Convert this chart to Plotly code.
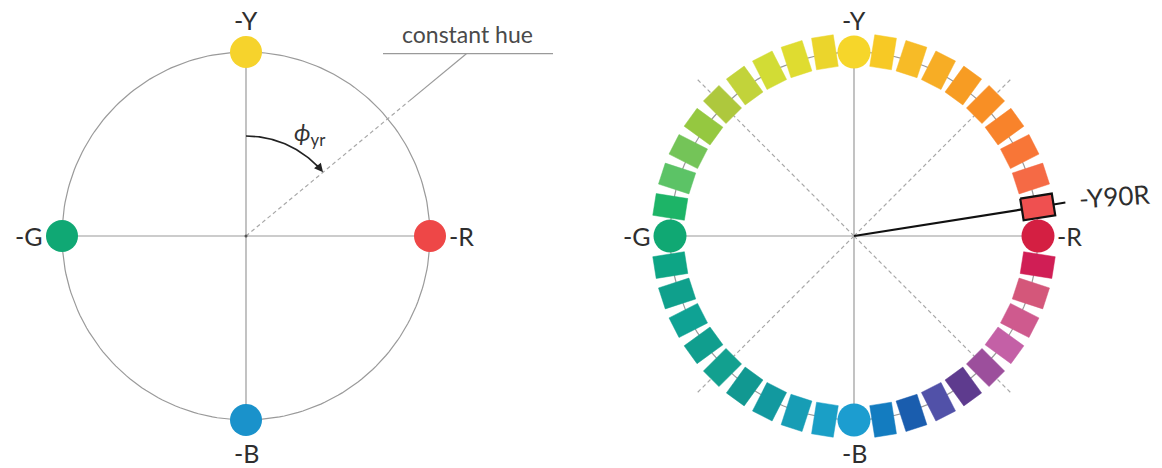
import math
import plotly.graph_objects as go

# ---------------- data ----------------
# Left diagram: the four unique hues
left_labels = ["-Y", "-R", "-B", "-G"]
left_angles = [0, 90, 180, 270]          # degrees, clockwise from top
left_colors = ["#F6D32C", "#EE4747", "#1A92CB", "#10A874"]

# constant hue line angle (phi_yr) in degrees
phi_yr = 50.4

# Right diagram: NCS hue circle, 40 steps of 9 degrees (clockwise from Y)
ring_names = (["Y"] + ["Y%dR" % p for p in range(10, 100, 10)] +
              ["R"] + ["R%dB" % p for p in range(10, 100, 10)] +
              ["B"] + ["B%dG" % p for p in range(10, 100, 10)] +
              ["G"] + ["G%dY" % p for p in range(10, 100, 10)])
ring_colors = [
    "#F6D62A",
    "#F7C925", "#F7BB27", "#F7AD25", "#F79C23", "#F88F25", "#F8832B", "#F87637", "#F56A45", "#EF5050",
    "#D41F42",
    "#D01E55", "#D4577A", "#CF5A8E", "#C460A6", "#9C4F9C", "#5E3B8E", "#5151A8", "#1A5DAE", "#137CC0",
    "#1C9DD0",
    "#1A9FC6", "#179DB5", "#12999F", "#119891", "#12A08F", "#109E8E", "#0FA294", "#0FA08C", "#0DA585",
    "#10A873",
    "#1DB467", "#5CC366", "#74C458", "#95C840", "#AEC83D", "#C2D33A", "#D2DC35", "#DFDC30", "#EBD52C",
]
highlight = "Y90R"

# ---------------- layout constants ----------------
W, H = 1162, 468
LC = (246, 236)   # left centre
RC = (854, 236)   # right centre
R = 184           # circle radius
RING_R = 186      # radius of rectangle centres
LR, LT = 32, 22   # rectangle radial / tangential size
GRAY = "#9A9A9A"
TXT = "#2E2E2E"
FONT = "Lato"

def pol(c, r, deg):
    a = math.radians(deg)
    return c[0] + r * math.sin(a), c[1] - r * math.cos(a)

fig = go.Figure()

def line(xs, ys, color=GRAY, width=1.2, dash=None):
    fig.add_trace(go.Scatter(x=xs, y=ys, mode="lines", hoverinfo="skip",
                             line=dict(color=color, width=width, dash=dash),
                             showlegend=False))

def circle(c, r, color=GRAY, width=1.2, a0=0, a1=360, n=240):
    pts = [pol(c, r, a0 + (a1 - a0) * k / n) for k in range(n + 1)]
    line([p[0] for p in pts], [p[1] for p in pts], color, width)

# ---------------- left diagram ----------------
circle(LC, R)
line([LC[0], LC[0]], [LC[1] - R, LC[1] + R])
line([LC[0] - R, LC[0] + R], [LC[1], LC[1]])

# constant hue dashed line + leader
p_in = pol(LC, 212, phi_yr)
line([LC[0], p_in[0]], [LC[1], p_in[1]], color="#A8A8A8", width=1.2, dash="4px,3px")
p_top = pol(LC, 286, phi_yr)
line([p_in[0], p_top[0]], [p_in[1], p_top[1]], color=GRAY, width=1.2)
line([383, 553], [p_top[1], p_top[1]], color=GRAY, width=1.2)

# phi arc with arrow
circle(LC, 100, color="#222222", width=1.6, a0=0, a1=phi_yr - 4, n=60)
tip = pol(LC, 100, phi_yr)
tdir = (math.cos(math.radians(phi_yr)), math.sin(math.radians(phi_yr)))
fig.add_annotation(x=tip[0], y=tip[1], ax=-11 * tdir[0], ay=-11 * tdir[1],
                   axref="pixel", ayref="pixel", text="", showarrow=True,
                   arrowhead=2, arrowsize=1.1, arrowwidth=1.6, arrowcolor="#222222")

fig.add_trace(go.Scatter(x=[LC[0]], y=[LC[1]], mode="markers", hoverinfo="skip",
                         marker=dict(size=3, color="#555555"), showlegend=False))

lx, ly = zip(*[pol(LC, R, a) for a in left_angles])
fig.add_trace(go.Scatter(x=list(lx), y=list(ly), mode="markers", hoverinfo="skip",
                         marker=dict(size=32, color=left_colors,
                                     line=dict(color=left_colors, width=0)),
                         showlegend=False))

# ---------------- right diagram ----------------
circle(RC, R)
line([RC[0], RC[0]], [RC[1] - R, RC[1] + R])
line([RC[0] - R, RC[0] + R], [RC[1], RC[1]])
for a in (45, 135, 225, 315):
    p = pol(RC, 221, a)
    line([RC[0], p[0]], [RC[1], p[1]], color="#A8A8A8", width=1.2, dash="4px,3px")

ring_angles = [9 * i for i in range(len(ring_names))]
card_x, card_y, card_c = [], [], []
for name, ang, col in zip(ring_names, ring_angles, ring_colors):
    if ang % 90 == 0:
        p = pol(RC, R, ang)
        card_x.append(p[0]); card_y.append(p[1]); card_c.append(col)
        continue
    c = pol(RC, RING_R, ang)
    a = math.radians(ang)
    u = (math.sin(a), -math.cos(a))
    t = (math.cos(a), math.sin(a))
    corners = []
    for su, st in ((-1, -1), (1, -1), (1, 1), (-1, 1), (-1, -1)):
        corners.append((c[0] + su * LR / 2 * u[0] + st * LT / 2 * t[0],
                        c[1] + su * LR / 2 * u[1] + st * LT / 2 * t[1]))
    hl = name == highlight
    fig.add_trace(go.Scatter(x=[q[0] for q in corners], y=[q[1] for q in corners],
                             mode="lines", fill="toself", fillcolor=col,
                             line=dict(color="#111111" if hl else col, width=2.2 if hl else 0.5),
                             hoverinfo="skip", showlegend=False))
    if hl:
        hl_ang = ang

fig.add_trace(go.Scatter(x=card_x, y=card_y, mode="markers", hoverinfo="skip",
                         marker=dict(size=33, color=card_c, line=dict(width=0)),
                         showlegend=False))

# black pointer to highlighted hue
p0 = pol(RC, RING_R - LR / 2, hl_ang)
line([RC[0], p0[0]], [RC[1], p0[1]], color="#111111", width=2.2)
p1 = pol(RC, RING_R + LR / 2, hl_ang)
p2 = pol(RC, RING_R + LR / 2 + 12, hl_ang)
line([p1[0], p2[0]], [p1[1], p2[1]], color="#111111", width=2)

# ---------------- text ----------------
def label(x, y, text, xanchor="center", size=25, color=TXT, angle=0):
    fig.add_annotation(x=x, y=y, text=text, showarrow=False, xanchor=xanchor,
                       yanchor="middle", textangle=angle,
                       font=dict(family=FONT, size=size, color=color))

for c in (LC, RC):
    label(c[0], c[1] - R - 32, "-Y")
    label(c[0], c[1] + R + 33, "-B")
    label(c[0] - R - 17, c[1], "-G", xanchor="right")
    label(c[0] + R + 17, c[1], "-R", xanchor="left")

label(467, 34, "constant hue", size=23, color="#4A4A4A")
label(309, 133, "<i>ϕ</i><sub>yr</sub>", size=24, color="#333333")
label(1076, 196, "-Y90R", xanchor="left", size=26, angle=-4)

fig.update_layout(width=W, height=H, margin=dict(l=0, r=0, t=0, b=0),
                  plot_bgcolor="white", paper_bgcolor="white",
                  xaxis=dict(range=[0, W], visible=False, fixedrange=True),
                  yaxis=dict(range=[H, 0], visible=False, fixedrange=True))
fig.write_html("out.html", config={"displayModeBar": False},
               post_script="document.body.style.margin='0';document.body.style.overflow='hidden';")
